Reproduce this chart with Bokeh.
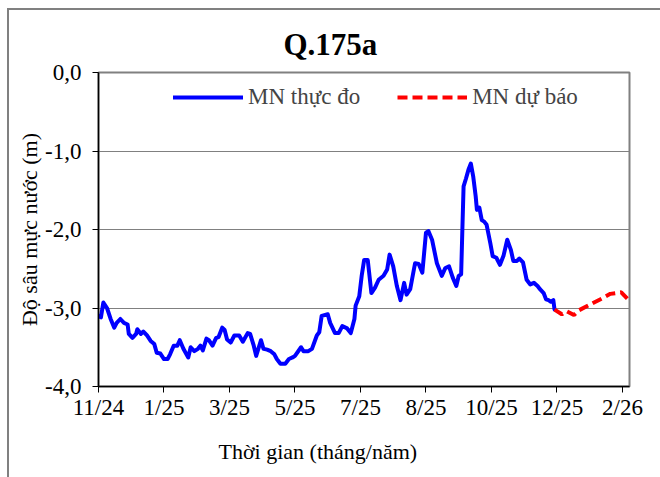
from bokeh.plotting import figure
from bokeh.models import FixedTicker, Title, Legend, LegendItem, Range1d
from bokeh.embed import file_html
from bokeh.resources import INLINE

# observed water-table depth (days since 30/11/2024, metres)
obs_day = [0, 2, 4, 7, 10, 13, 15, 18, 21, 24, 25, 28, 31, 32, 35, 37, 40, 43, 46, 48,
           51, 54, 57, 59, 62, 65, 67, 70, 74, 76, 79, 82, 84, 86, 89, 91, 94, 97, 99, 102,
           104, 106, 109, 112, 116, 119, 123, 125, 128, 130, 134, 136, 139, 142, 145, 147, 150, 154, 157, 160,
           162, 167, 169, 173, 176, 180, 182, 184, 189, 191, 195, 198, 201, 205, 208, 211, 212, 215, 217, 219,
           222, 225, 228, 231, 235, 238, 240, 243, 246, 249, 252, 254, 257, 261, 264, 267, 270, 272, 275, 279,
           283, 286, 289, 292, 295, 297, 299, 300, 301, 303, 305, 307, 309, 311, 312, 314, 316, 318, 320, 323,
           325, 328, 331, 334, 337, 340, 342, 345, 347, 350, 353, 356, 359, 362, 364, 367, 369, 371, 373, 375, 376]
obs_depth = [-3.10, -3.12, -2.93, -3.00, -3.14, -3.25, -3.19, -3.14, -3.19, -3.21, -3.33, -3.38, -3.33, -3.27, -3.33, -3.30, -3.35, -3.42, -3.46, -3.57,
             -3.58, -3.65, -3.65, -3.59, -3.48, -3.48, -3.41, -3.52, -3.63, -3.50, -3.55, -3.52, -3.48, -3.54, -3.39, -3.41, -3.48, -3.38, -3.37, -3.25,
             -3.28, -3.40, -3.44, -3.35, -3.35, -3.43, -3.32, -3.33, -3.48, -3.61, -3.41, -3.52, -3.53, -3.55, -3.59, -3.65, -3.71, -3.71, -3.65, -3.63,
             -3.61, -3.50, -3.55, -3.55, -3.52, -3.35, -3.31, -3.10, -3.08, -3.19, -3.32, -3.32, -3.23, -3.26, -3.32, -3.14, -2.97, -2.85, -2.59, -2.39,
             -2.39, -2.81, -2.74, -2.64, -2.59, -2.51, -2.32, -2.47, -2.72, -2.90, -2.68, -2.83, -2.76, -2.43, -2.44, -2.55, -2.04, -2.02, -2.13, -2.43,
             -2.59, -2.49, -2.47, -2.61, -2.72, -2.59, -2.57, -2.00, -1.45, -1.35, -1.24, -1.16, -1.33, -1.58, -1.75, -1.72, -1.88, -1.90, -1.94, -2.17,
             -2.34, -2.36, -2.45, -2.33, -2.13, -2.26, -2.40, -2.40, -2.37, -2.42, -2.64, -2.70, -2.68, -2.72, -2.76, -2.81, -2.89, -2.90, -2.92, -2.90, -3.02]

# forecast
fc_day = [376, 382, 386, 392, 396, 406, 415, 422, 431, 436]
fc_depth = [-3.02, -3.08, -3.04, -3.09, -3.03, -2.95, -2.88, -2.82, -2.80, -2.88]

x_tick_days = [0, 54, 108, 162, 216, 270, 324, 378, 432]
x_tick_labels = ["11/24", "1/25", "3/25", "5/25", "7/25", "8/25", "10/25", "12/25", "2/26"]
y_ticks = [0, -1, -2, -3, -4]
y_tick_labels = ["0,0", "-1,0", "-2,0", "-3,0", "-4,0"]

FONT = "Liberation Serif"
FS = "22px"
FS_TICK = "23px"

p = figure(width=660, height=477, output_backend="svg", toolbar_location=None,
           x_range=Range1d(0, 437.8), y_range=Range1d(-4, 0),
           min_border_left=98, min_border_right=31, min_border_top=72, min_border_bottom=89,
           background_fill_color="white", border_fill_color="white", border_fill_alpha=0)
# outer chart border (top and left edges) drawn behind the transparent border area
p.styles = {"background": "linear-gradient(#808080, #808080) 7px 8px / 2px 100% no-repeat, "
                          "linear-gradient(#808080, #808080) 7px 8px / 100% 2px no-repeat, white"}

p.outline_line_color = "#808080"
p.outline_line_width = 2

p.xgrid.grid_line_color = None
p.ygrid.grid_line_color = "#808080"
p.ygrid.grid_line_width = 1

p.yaxis.ticker = FixedTicker(ticks=y_ticks)
p.yaxis.major_label_overrides = dict(zip(y_ticks, y_tick_labels))
p.xaxis.ticker = FixedTicker(ticks=x_tick_days)
p.xaxis.major_label_overrides = dict(zip(x_tick_days, x_tick_labels))

for ax in (p.xaxis[0], p.yaxis[0]):
    ax.axis_line_color = "black"
    ax.axis_line_width = 1.5
    ax.major_tick_line_color = "black"
    ax.major_tick_in = 0
    ax.major_tick_out = 6
    ax.minor_tick_line_color = None
    ax.major_label_text_font = FONT
    ax.major_label_text_font_size = FS_TICK
    ax.major_label_text_color = "black"

p.xaxis.major_label_standoff = 2
p.yaxis.major_label_standoff = 11
p.yaxis.axis_label = "Độ sâu mực nước (m)"
p.yaxis.axis_label_text_font = FONT
p.yaxis.axis_label_text_font_size = FS
p.yaxis.axis_label_text_font_style = "normal"
p.yaxis.axis_label_text_color = "black"
p.yaxis.axis_label_standoff = 0

r1 = p.line(obs_day, obs_depth, line_color="#0000FF", line_width=4, line_join="round", line_cap="round")
r2 = p.line(fc_day, fc_depth, line_color="#FF0000", line_width=4, line_dash="10 5")

legend = Legend(items=[LegendItem(label="MN thực đo", renderers=[r1]),
                       LegendItem(label="MN dự báo", renderers=[r2])],
                orientation="horizontal", location=(75, 276),
                glyph_width=70, glyph_height=22, label_height=22,
                label_standoff=5, spacing=37, padding=0, margin=0,
                label_text_font=FONT, label_text_font_size=FS_TICK,
                border_line_color=None, background_fill_alpha=0)
p.add_layout(legend, "center")

p.add_layout(Title(text="Q.175a", align="left", offset=185, standoff=22, text_font=FONT,
                   text_font_size="31px", text_font_style="bold", text_color="black"), "above")
p.add_layout(Title(text="Thời gian (tháng/năm)", align="left", offset=120, standoff=28, text_font=FONT,
                   text_font_size=FS, text_font_style="normal", text_color="black"), "below")

open("out.html", "w").write(file_html(p, INLINE))
